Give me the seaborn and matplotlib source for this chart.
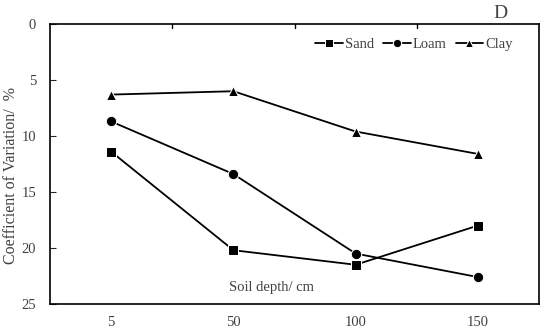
import pandas as pd
import matplotlib.pyplot as plt
import seaborn as sns

# Data
depths = ['5', '50', '100', '150']
sand = [11.4, 20.2, 21.5, 18.0]
loam = [8.7, 13.4, 20.5, 22.6]
clay = [6.3, 6.0, 9.6, 11.6]

df = pd.DataFrame({
    'Depth': depths * 3,
    'CV': sand + loam + clay,
    'Soil': ['Sand'] * 4 + ['Loam'] * 4 + ['Clay'] * 4,
})

sns.set_style('white')
plt.rcParams['font.family'] = ['Liberation Serif', 'DejaVu Serif']
txt = '#404040'

fig = plt.figure(figsize=(5.5, 3.34), dpi=100)
ax = fig.add_axes([0.091, 0.09, 0.889, 0.838])

sns.lineplot(data=df, x='Depth', y='CV', style='Soil', markers={'Sand': 's', 'Loam': 'o', 'Clay': '^'},
             dashes=False, color='black', markersize=7.5, linewidth=1.3, sort=False, ax=ax)

ax.set_xlim(-0.5, 3.5)
ax.set_ylim(25, 0)
ax.set_yticks([0, 5, 10, 15, 20, 25])
ax.set_xticks(range(4))
ax.set_xticklabels(depths)
ax.tick_params(axis='x', length=0, labelsize=10.5, labelcolor=txt, pad=9)
ax.tick_params(axis='y', direction='in', length=4, left=True, labelsize=10.5, labelcolor=txt, pad=10)
# tick marks between categories along the top
for xb in [0.5, 1.5, 2.5]:
    ax.plot([xb, xb], [0, 0.35], color='black', lw=1, clip_on=False)
for s in ax.spines.values():
    s.set_color('black')
    s.set_linewidth(1.2)

ax.set_xlabel('')
ax.set_ylabel('Coefficient of Variation/  %', fontsize=11.5, color=txt)
ax.yaxis.set_label_coords(-0.064, 0.46)
ax.text(1.31, 23.5, 'Soil depth/ cm', ha='center', va='center', fontsize=10.5, color=txt)
fig.text(0.91, 0.96, 'D', ha='center', va='center', fontsize=14, color=txt)

handles, labels = ax.get_legend_handles_labels()
ax.legend(handles, labels, loc='upper right', ncol=3, frameon=False, fontsize=10.5,
          handlelength=1.9, handletextpad=0.15, columnspacing=0.6, labelcolor=txt,
          bbox_to_anchor=(0.975, 1.0), markerscale=0.8, borderaxespad=0.55)

fig.savefig('out.png', dpi=100)
